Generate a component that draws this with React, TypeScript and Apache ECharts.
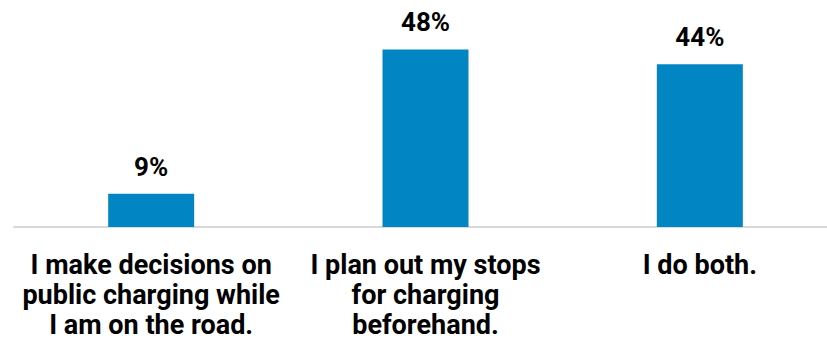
import React, { useEffect, useRef } from "react";
import * as echarts from "echarts";

const categories = [
  "I make decisions on\npublic charging while\nI am on the road.",
  "I plan out my stops\nfor charging\nbeforehand.",
  "I do both.",
];
const values = [9, 48, 44];

export default function App() {
  const ref = useRef<HTMLDivElement>(null);
  useEffect(() => {
    const chart = echarts.init(ref.current!, null, { renderer: "svg" });
    chart.setOption({
      animation: false,
      grid: { left: 14, top: 5, width: 823, height: 222, containLabel: false },
      xAxis: {
        type: "category",
        data: categories,
        axisLine: { lineStyle: { color: "#d9d9d9", width: 2 } },
        axisTick: { show: false },
        axisLabel: {
          interval: 0,
          margin: 23,
          color: "#000",
          fontFamily: "Roboto",
          fontWeight: "bold",
          fontSize: 27,
          lineHeight: 30,
          align: "center",
        },
      },
      yAxis: {
        type: "value",
        min: 0,
        max: 60,
        show: false,
        splitLine: { show: false },
      },
      series: [
        {
          type: "bar",
          data: values,
          barWidth: 86,
          itemStyle: { color: "#0286C3" },
          label: {
            show: true,
            position: "top",
            distance: 14,
            formatter: "{c}%",
            color: "#000",
            fontFamily: "Roboto",
            fontWeight: "bold",
            fontSize: 26,
          },
        },
      ],
    });
    return () => chart.dispose();
  }, []);
  return (
    <div style={{ position: "fixed", left: 0, top: 0, width: 827, height: 341, overflow: "hidden", background: "#fff" }}>
      <div ref={ref} style={{ width: 850, height: 341 }} />
    </div>
  );
}
